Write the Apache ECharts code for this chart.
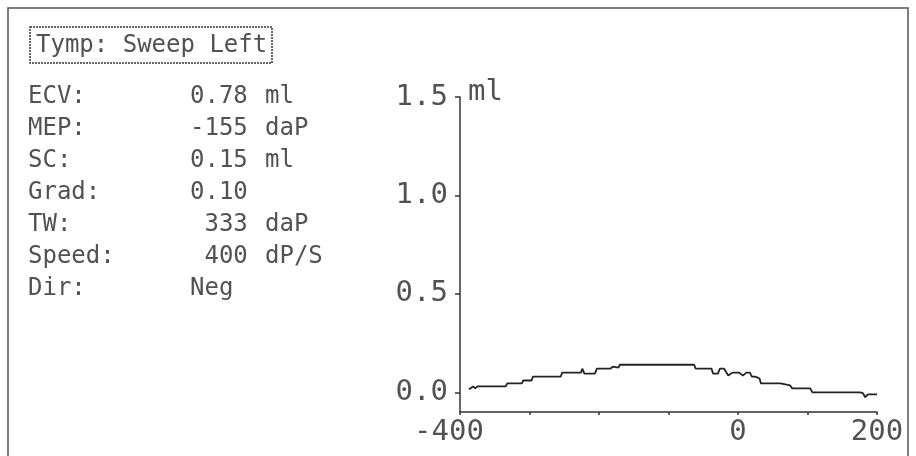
<!DOCTYPE html>
<html>
<head>
<meta charset="utf-8">
<script src="https://cdn.jsdelivr.net/npm/echarts@6/dist/echarts.min.js"></script>
<style>
html,body{margin:0;padding:0;background:#fff;}
#chart{width:916px;height:456px;}
</style>
</head>
<body>
<div id="chart"></div>
<script>
// ---- data ----
const titleText = 'Tymp: Sweep Left';
const infoLabels = ['ECV:', 'MEP:', 'SC:', 'Grad:', 'TW:', 'Speed:', 'Dir:'];
const infoValues = ['0.78', '-155', '0.15', '0.10', ' 333', ' 400', 'Neg'];
const infoUnits  = ['ml', 'daP', 'ml', '', 'daP', 'dP/S', ''];

const pressure = [-387, -381, -378, -375, -334, -332, -311, -309, -297, -295, -255, -253, -226, -224, -221, -206, -203, -184, -180, -172, -170, -63, -61, -38, -36, -29, -26, -20, -14, -8, 2, 7, 12, 17, 20, 25, 27, 31, 33, 61, 63, 75, 78, 104, 107, 176, 180, 183, 187, 200];
const admittance = [0.015, 0.03, 0.02, 0.03, 0.03, 0.045, 0.045, 0.06, 0.06, 0.08, 0.08, 0.10, 0.10, 0.12, 0.095, 0.095, 0.12, 0.12, 0.13, 0.125, 0.14, 0.14, 0.12, 0.12, 0.095, 0.095, 0.12, 0.12, 0.085, 0.10, 0.10, 0.085, 0.10, 0.10, 0.08, 0.08, 0.07, 0.07, 0.045, 0.045, 0.035, 0.035, 0.02, 0.02, 0.0, 0.0, -0.005, -0.025, -0.01, -0.01];

const xTickLabels = [-400, 0, 200];
const yTickLabels = [0, 0.5, 1.0, 1.5];
const yUnit = 'ml';

// ---- chart ----
const FONT = '"DejaVu Sans Mono", "Liberation Mono", monospace';
const textColor = '#525252';
const chart = echarts.init(document.getElementById('chart'));

const graphics = [
  { type: 'rect', shape: { x: 8, y: 8, width: 900, height: 460 }, style: { fill: 'none', stroke: '#555', lineWidth: 1.5 }, silent: true },
  { type: 'rect', shape: { x: 30, y: 27, width: 242, height: 36 }, style: { fill: 'none', stroke: '#333', lineWidth: 1.5, lineDash: [2, 1] }, silent: true },
  { type: 'text', style: { text: titleText, x: 36, y: 46, fill: textColor, font: '24px ' + FONT, align: 'left', verticalAlign: 'middle' } }
];
infoLabels.forEach((lab, i) => {
  const y = 97 + i * 32;
  graphics.push({ type: 'text', style: { text: lab, x: 28, y: y, fill: textColor, font: '24px ' + FONT, align: 'left', verticalAlign: 'middle' } });
  graphics.push({ type: 'text', style: { text: infoValues[i], x: 190, y: y, fill: textColor, font: '24px ' + FONT, align: 'left', verticalAlign: 'middle' } });
  if (infoUnits[i]) graphics.push({ type: 'text', style: { text: infoUnits[i], x: 265, y: y, fill: textColor, font: '24px ' + FONT, align: 'left', verticalAlign: 'middle' } });
});

chart.setOption({
  animation: false,
  backgroundColor: '#fff',
  graphic: graphics,
  grid: { left: 460, right: 39, top: 97, bottom: 44, containLabel: false, outerBoundsMode: 'none' },
  xAxis: {
    type: 'value', min: -400, max: 200, interval: 100,
    axisLine: { show: true, onZero: false, lineStyle: { color: '#333', width: 1.5 } },
    axisTick: { show: true, length: 3, lineStyle: { color: '#333', width: 1.5 } },
    splitLine: { show: false },
    axisLabel: {
      customValues: xTickLabels, margin: 6, color: textColor, fontFamily: FONT, fontSize: 29,
      formatter: v => v < 0 ? '{neg|' + v + '}' : String(v),
      rich: { neg: { padding: [0, 22, 0, 0], fontFamily: FONT, fontSize: 29, color: textColor } }
    }
  },
  yAxis: {
    type: 'value', min: -0.1, max: 1.5,
    name: yUnit, nameLocation: 'end', nameGap: 5,
    nameTextStyle: { align: 'left', verticalAlign: 'middle', padding: [0, 0, 0, 8], color: textColor, fontFamily: FONT, fontSize: 29 },
    axisLine: { show: true, onZero: false, lineStyle: { color: '#333', width: 1.5 } },
    axisTick: { show: true, length: 5, customValues: yTickLabels, lineStyle: { color: '#333', width: 1.5 } },
    splitLine: { show: false },
    axisLabel: { customValues: yTickLabels, margin: 12, color: textColor, fontFamily: FONT, fontSize: 29, formatter: v => v.toFixed(1) }
  },
  series: [{
    type: 'line',
    data: pressure.map((p, i) => [p, admittance[i]]),
    showSymbol: false,
    lineStyle: { color: '#222', width: 1.8 },
    silent: true
  }]
});
</script>
</body>
</html>
